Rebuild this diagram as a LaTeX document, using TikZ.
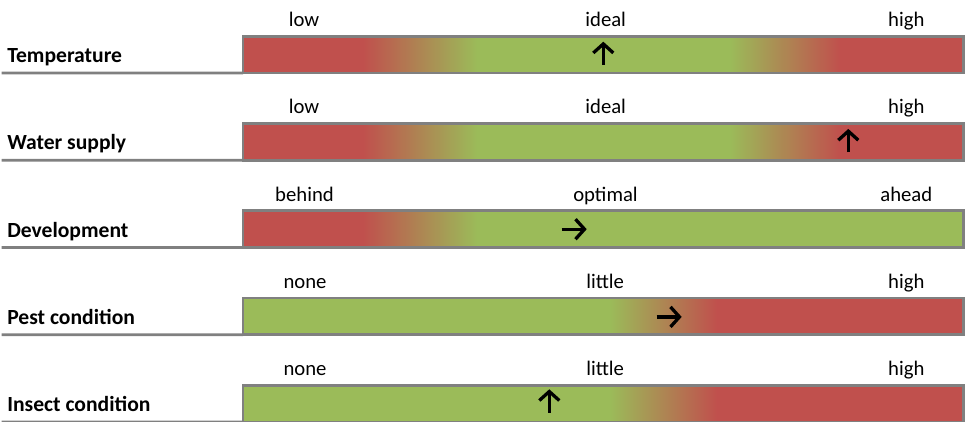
\documentclass[tikz,border=0pt]{standalone}
\usepackage{fontspec}
\setmainfont{Carlito}
\usetikzlibrary{arrows.meta}
\definecolor{barred}{HTML}{C0504D}
\definecolor{bargreen}{HTML}{9BBB59}
\definecolor{bargray}{HTML}{808080}
\begin{document}
\begin{tikzpicture}[x=1pt,y=-1pt,
  every node/.style={inner sep=0pt,outer sep=0pt},
  txt/.style={font=\fontsize{20.7}{24}\selectfont},
  rowlabel/.style={txt,anchor=base west,font=\fontsize{21.6}{24}\selectfont\bfseries},
  scalelabel/.style={txt,anchor=base},
  barframe/.style={draw=bargray,line width=2.6pt,anchor=north west,minimum width=720.5pt,minimum height=36.7pt},
  underline/.style={draw=bargray,line width=2.6pt},
  pointer/.style={line width=3.3pt,-{Straight Barb[length=9pt,width=20pt]}},
  r2g/.style={left color=barred,right color=bargreen},
  g2r/.style={left color=bargreen,right color=barred}]
\useasboundingbox (0,0) rectangle (966,422);

% ---------- Row 1: Temperature ----------
\fill[barred] (243,36.3) rectangle (363,73);
\shade[r2g] (363,36.3) rectangle (477,73);
\fill[bargreen] (477,36.3) rectangle (730,73);
\shade[g2r] (730,36.3) rectangle (840,73);
\fill[barred] (840,36.3) rectangle (963.5,73);
\node[barframe] (bar1) at (243,36.3) {};
\coordinate (l1) at (1.7,73);
\draw[underline] (l1) -- (bar1.south west);
\node[rowlabel] (n1) at (7.3,62.7) {Temperature};
\node[scalelabel] (a1) at (304,26.7) {low};
\node[scalelabel] (b1) at (605.7,26.7) {ideal};
\node[scalelabel] (c1) at (906.3,26.7) {high};
\coordinate (p1s) at (603.3,65);
\coordinate (p1e) at (603.3,41.7);
\draw[pointer] (p1s) -- (p1e);

% ---------- Row 2: Water supply ----------
\fill[barred] (243,123.55) rectangle (363,160.25);
\shade[r2g] (363,123.55) rectangle (477,160.25);
\fill[bargreen] (477,123.55) rectangle (730,160.25);
\shade[g2r] (730,123.55) rectangle (840,160.25);
\fill[barred] (840,123.55) rectangle (963.5,160.25);
\node[barframe] (bar2) at (243,123.55) {};
\coordinate (l2) at (1.7,160.25);
\draw[underline] (l2) -- (bar2.south west);
\node[rowlabel] (n2) at (7.3,149.95) {Water supply};
\node[scalelabel] (a2) at (304,113.95) {low};
\node[scalelabel] (b2) at (605.7,113.95) {ideal};
\node[scalelabel] (c2) at (906.3,113.95) {high};
\coordinate (p2s) at (848.3,152.25);
\coordinate (p2e) at (848.3,128.95);
\draw[pointer] (p2s) -- (p2e);

% ---------- Row 3: Development ----------
\fill[barred] (243,210.8) rectangle (363,247.5);
\shade[r2g] (363,210.8) rectangle (477,247.5);
\fill[bargreen] (477,210.8) rectangle (963.5,247.5);
\node[barframe] (bar3) at (243,210.8) {};
\coordinate (l3) at (1.7,247.5);
\draw[underline] (l3) -- (bar3.south west);
\node[rowlabel] (n3) at (7.3,237.2) {Development};
\node[scalelabel] (a3) at (304.5,201.2) {behind};
\node[scalelabel] (b3) at (605.5,201.2) {optimal};
\node[scalelabel] (c3) at (906.3,201.2) {ahead};
\coordinate (p3s) at (561.7,229.2);
\coordinate (p3e) at (586.7,229.2);
\draw[pointer] (p3s) -- (p3e);

% ---------- Row 4: Pest condition ----------
\fill[bargreen] (243,298.05) rectangle (610,334.75);
\shade[g2r] (610,298.05) rectangle (717,334.75);
\fill[barred] (717,298.05) rectangle (963.5,334.75);
\node[barframe] (bar4) at (243,298.05) {};
\coordinate (l4) at (1.7,334.75);
\draw[underline] (l4) -- (bar4.south west);
\node[rowlabel] (n4) at (7.3,324.45) {Pest condition};
\node[scalelabel] (a4) at (305,288.45) {none};
\node[scalelabel] (b4) at (605.2,288.45) {little};
\node[scalelabel] (c4) at (906.3,288.45) {high};
\coordinate (p4s) at (656.7,316.9);
\coordinate (p4e) at (681.7,316.9);
\draw[pointer] (p4s) -- (p4e);

% ---------- Row 5: Insect condition ----------
\fill[bargreen] (243,385.3) rectangle (610,422);
\shade[g2r] (610,385.3) rectangle (717,422);
\fill[barred] (717,385.3) rectangle (963.5,422);
\node[barframe] (bar5) at (243,385.3) {};
\coordinate (l5) at (1.7,422);
\draw[underline] (l5) -- (bar5.south west);
\node[rowlabel] (n5) at (7.3,411.7) {Insect condition};
\node[scalelabel] (a5) at (305,375.7) {none};
\node[scalelabel] (b5) at (605.2,375.7) {little};
\node[scalelabel] (c5) at (906.3,375.7) {high};
\coordinate (p5s) at (549.3,412.7);
\coordinate (p5e) at (549.3,389.3);
\draw[pointer] (p5s) -- (p5e);
\end{tikzpicture}
\end{document}
